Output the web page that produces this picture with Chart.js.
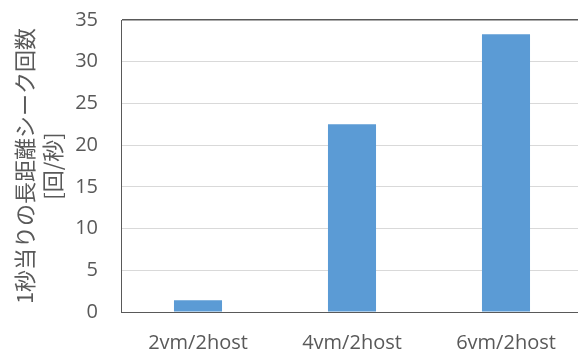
<!DOCTYPE html>
<html>
<head>
<meta charset="utf-8">
<script src="https://cdn.jsdelivr.net/npm/chart.js@4/dist/chart.umd.min.js"></script>
<style>
  html, body { margin: 0; padding: 0; background: #fff; overflow: hidden; }
  #wrap { position: relative; width: 590px; height: 352px; }
</style>
</head>
<body>
<div id="wrap"><canvas id="c" width="590" height="352"></canvas></div>
<script>
// Long-distance seeks per second for each VM/host configuration
const categories = ['2vm/2host', '4vm/2host', '6vm/2host'];
const seeksPerSecond = [1.4, 22.5, 33.3];
const yTitleLines = ['1秒当りの長距離シーク回数', '[回/秒]'];
const yMin = 0, yMax = 35, yStep = 5;

const textColor = '#595959';
const frameColor = '#595959';
const gridColor = '#D9D9D9';
const barColor = '#5B9BD5';

new Chart(document.getElementById('c'), {
  type: 'bar',
  data: {
    labels: categories,
    datasets: [{
      data: seeksPerSecond,
      backgroundColor: barColor,
      borderWidth: 0,
      barPercentage: 1,
      categoryPercentage: 0.312
    }]
  },
  options: {
    responsive: false,
    animation: false,
    layout: { padding: { left: 0, right: 7, top: 20, bottom: 0 } },
    plugins: { legend: { display: false }, tooltip: { enabled: false } },
    scales: {
      x: {
        grid: { display: false, drawTicks: false },
        border: { display: true, color: frameColor, width: 1 },
        ticks: {
          color: textColor,
          padding: 19,
          font: { family: 'Open Sans', size: 20 }
        },
        afterFit(scale) { scale.height = 40; }
      },
      y: {
        min: yMin,
        max: yMax,
        ticks: {
          stepSize: yStep,
          color: textColor,
          padding: 3,
          font: { family: 'Open Sans', size: 20 }
        },
        grid: {
          drawTicks: true,
          tickLength: 20,
          tickColor: 'rgba(0,0,0,0)',
          color: ctx => (ctx.tick && ctx.tick.value === yMax) ? frameColor : gridColor,
          lineWidth: ctx => (ctx.tick && ctx.tick.value === yMax) ? 1.5 : 1
        },
        border: { display: true, color: frameColor, width: 1 },
        title: {
          display: true,
          text: yTitleLines,
          color: textColor,
          padding: { top: 10, bottom: 0 },
          font: { family: 'Noto Sans CJK JP', size: 22, lineHeight: 1.3 }
        },
        afterFit(scale) { scale.width = 121; }
      }
    }
  }
});
</script>
</body>
</html>
